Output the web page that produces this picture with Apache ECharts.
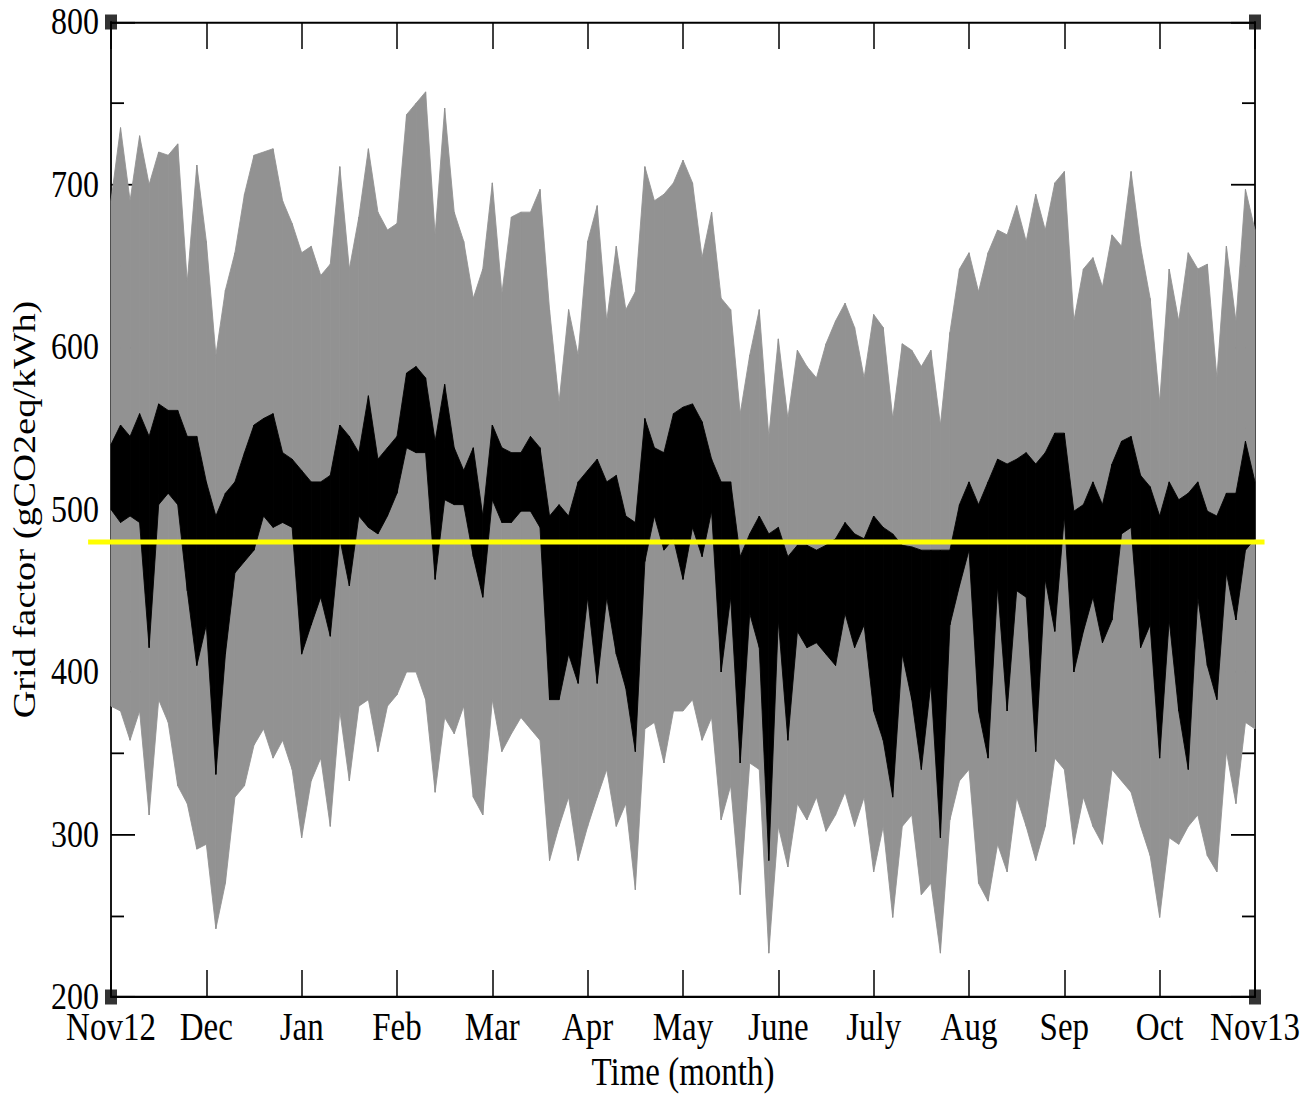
<!DOCTYPE html>
<html>
<head>
<meta charset="utf-8">
<script src="https://cdn.jsdelivr.net/npm/echarts@6/dist/echarts.min.js"></script>
<style>
  html, body { margin: 0; padding: 0; background: #ffffff; }
  #frame { position: relative; width: 1301px; height: 1094px; }
  /* the figure is laid out at 912px and stretched vertically to fill 1094px */
  #chart { position: absolute; left: 0; top: 0; width: 1301px; height: 912px;
           transform: scaleY(1.19956); transform-origin: 0 0; }
</style>
</head>
<body>
<div id="frame"><div id="chart"></div></div>
<script>
// Month tick labels (one per month boundary, Nov 2012 .. Nov 2013)
const MONTH_LABELS = ['Nov12', 'Dec', 'Jan', 'Feb', 'Mar', 'Apr', 'May', 'June', 'July', 'Aug', 'Sep', 'Oct', 'Nov13'];

// Samples are taken every tenth of a month
const SAMPLES_PER_MONTH = 10;

// Hourly spread of the grid factor: upper and lower envelope (gCO2eq/kWh)
const spreadUpper = [
  690, 735, 690, 730, 700, 720, 718, 725, 640, 712, 665,
  595, 635, 658, 694, 718, 720, 722, 690, 676, 658,
  662, 644, 651, 711, 648, 680, 722, 683, 672, 676,
  743, 750, 757, 669, 747, 683, 665, 630, 648, 701,
  633, 680, 683, 683, 697, 623, 566, 623, 595, 665,
  687, 616, 662, 623, 634, 711, 690, 694, 701, 715,
  701, 655, 683, 630, 623, 559, 595, 623, 545, 605,
  556, 598, 588, 581, 602, 616, 627, 612, 581, 620,
  612, 556, 602, 598, 588, 598, 552, 609, 648, 658,
  634, 658, 672, 669, 687, 665, 694, 672, 701, 708,
  616, 648, 655, 637, 669, 662, 708, 662, 630, 566,
  648, 616, 658, 648, 651, 581, 662, 616, 697, 672
];
const spreadLower = [
  379, 376, 358, 376, 312, 383, 369, 330, 319, 291, 294,
  242, 270, 323, 330, 355, 365, 347, 358, 340, 298,
  333, 347, 305, 376, 333, 379, 383, 351, 379, 386,
  400, 400, 383, 326, 372, 362, 379, 323, 312, 383,
  351, 362, 372, 365, 358, 284, 305, 323, 284, 305,
  323, 340, 305, 319, 266, 365, 369, 344, 376, 376,
  383, 358, 372, 309, 330, 263, 344, 340, 227, 305,
  280, 319, 309, 323, 302, 312, 326, 305, 323, 277,
  305, 249, 305, 312, 263, 270, 227, 309, 333, 340,
  270, 259, 294, 277, 323, 305, 284, 305, 347, 340,
  294, 323, 305, 294, 340, 333, 326, 305, 287, 249,
  298, 294, 305, 312, 287, 277, 351, 319, 369, 365
];

// Core band of the grid factor: upper and lower envelope (gCO2eq/kWh)
const coreUpper = [
  540, 552, 545, 559, 545, 565, 561, 561, 545, 545, 517,
  496, 510, 517, 535, 552, 556, 559, 535, 531, 524,
  517, 517, 521, 552, 545, 535, 570, 531, 538, 545,
  584, 588, 581, 542, 577, 538, 524, 538, 496, 552,
  538, 535, 535, 545, 538, 496, 503, 496, 517, 524,
  531, 517, 521, 496, 492, 556, 538, 535, 559, 563,
  565, 554, 531, 517, 517, 471, 485, 496, 485, 489,
  471, 478, 478, 475, 478, 482, 492, 485, 482, 496,
  489, 485, 478, 477, 475, 475, 475, 475, 503, 517,
  503, 517, 531, 528, 531, 535, 528, 535, 547, 547,
  499, 503, 517, 503, 528, 542, 545, 521, 514, 496,
  517, 506, 510, 517, 499, 496, 510, 510, 542, 517
];
const coreLower = [
  500, 492, 496, 492, 415, 503, 510, 503, 450, 404, 429,
  337, 411, 461, 468, 475, 496, 489, 492, 489, 411,
  429, 446, 422, 482, 453, 496, 489, 485, 496, 510,
  538, 535, 535, 457, 506, 503, 503, 471, 446, 506,
  492, 492, 499, 499, 489, 383, 383, 411, 393, 446,
  393, 446, 411, 390, 351, 468, 496, 475, 482, 457,
  489, 471, 499, 400, 446, 344, 436, 415, 284, 432,
  358, 425, 415, 418, 411, 404, 436, 415, 429, 376,
  358, 323, 411, 383, 340, 393, 298, 429, 453, 475,
  376, 347, 453, 376, 450, 446, 351, 457, 425, 496,
  400, 425, 446, 418, 432, 485, 489, 415, 429, 347,
  432, 376, 340, 446, 404, 383, 461, 432, 475, 482
];

// Annual mean grid factor, drawn slightly past both plot edges
const annualMean = 480;
const MEAN_LINE_SPAN = [-0.24, 12.1];

// Y axis range and tick step
const Y_MIN = 200, Y_MAX = 800, Y_STEP = 100;

const FONT = 'Liberation Serif';

function monthPos(i) { return i / SAMPLES_PER_MONTH; }

// Filled band between a lower and an upper envelope, one quad per sample step
function bandSeries(name, upper, lower, color, z) {
  const data = upper.map((v, i) => [monthPos(i), lower[i], v]);
  return {
    type: 'custom', name: name, z: z, silent: true, clip: false,
    data: data,
    encode: { x: 0, y: [1, 2] },
    renderItem: function (params, api) {
      const i = params.dataIndex;
      if (i >= data.length - 1) return { type: 'group', children: [] };
      const a = data[i], b = data[i + 1];
      const pts = [
        api.coord([a[0], a[2]]), api.coord([b[0], b[2]]),
        api.coord([b[0], b[1]]), api.coord([a[0], a[1]])
      ];
      return {
        type: 'polygon', shape: { points: pts },
        style: { fill: color, stroke: color, lineWidth: 0.8 }
      };
    }
  };
}

const chart = echarts.init(document.getElementById('chart'), null, { renderer: 'svg' });

const axisLineStyle = { color: '#000', width: 1.8 };
const tickStyle = { color: '#000', width: 1.5 };

const xBase = {
  type: 'value', min: 0, max: MONTH_LABELS.length - 1, interval: 1,
  splitLine: { show: false },
  axisLine: { show: true, onZero: false, lineStyle: axisLineStyle },
  axisTick: { show: true, inside: true, length: 22.5, lineStyle: tickStyle }
};
const yBase = {
  type: 'value', min: Y_MIN, max: Y_MAX, interval: Y_STEP,
  splitLine: { show: false },
  axisLine: { show: true, onZero: false, lineStyle: axisLineStyle },
  axisTick: { show: true, inside: true, length: 24, lineStyle: tickStyle },
  minorTick: { show: true, splitNumber: 2, length: 13, lineStyle: tickStyle }
};

chart.setOption({
  animation: false,
  backgroundColor: '#ffffff',
  grid: { left: 111, right: 46, top: 18.34, bottom: 80.86, containLabel: false, outerBoundsMode: 'none' },
  xAxis: [
    Object.assign({}, xBase, {
      position: 'bottom',
      axisLabel: {
        show: true, margin: 11, color: '#000', fontFamily: FONT, fontSize: 33, lineHeight: 28,
        formatter: v => MONTH_LABELS[Math.round(v)]
      },
      name: 'Time (month)', nameLocation: 'middle', nameGap: 49,
      nameTextStyle: { color: '#000', fontFamily: FONT, fontSize: 33, lineHeight: 26 }
    }),
    Object.assign({}, xBase, { position: 'top', axisLabel: { show: false } })
  ],
  yAxis: [
    Object.assign({}, yBase, {
      position: 'left',
      axisLabel: { show: true, margin: 12, color: '#000', fontFamily: FONT, fontSize: 32, lineHeight: 20 },
      name: 'Grid factor (gCO2eq/kWh)', nameLocation: 'middle', nameGap: 70,
      nameTextStyle: { color: '#000', fontFamily: FONT, fontSize: 32 }
    }),
    Object.assign({}, yBase, { position: 'right', axisLabel: { show: false } })
  ],
  series: [
    bandSeries('spread', spreadUpper, spreadLower, '#929292', 1),
    bandSeries('core', coreUpper, coreLower, '#000000', 2),
    {
      name: 'annual mean', type: 'custom', silent: true, clip: false, z: 3,
      data: [[MEAN_LINE_SPAN[0], MEAN_LINE_SPAN[1], annualMean]],
      encode: { x: [0, 1], y: 2 },
      renderItem: function (params, api) {
        const p0 = api.coord([api.value(0), api.value(2)]);
        const p1 = api.coord([api.value(1), api.value(2)]);
        return {
          type: 'line',
          shape: { x1: p0[0], y1: p0[1], x2: p1[0], y2: p1[1] },
          style: { stroke: '#ffff00', lineWidth: 4.2 }
        };
      }
    },
    {
      name: 'corners', type: 'scatter', clip: false, silent: true, z: 4,
      data: [[0, Y_MAX], [12, Y_MAX], [0, Y_MIN], [12, Y_MIN]],
      symbol: 'rect', symbolSize: [12, 12.5],
      itemStyle: { color: '#000' }
    }
  ]
});
</script>
</body>
</html>
